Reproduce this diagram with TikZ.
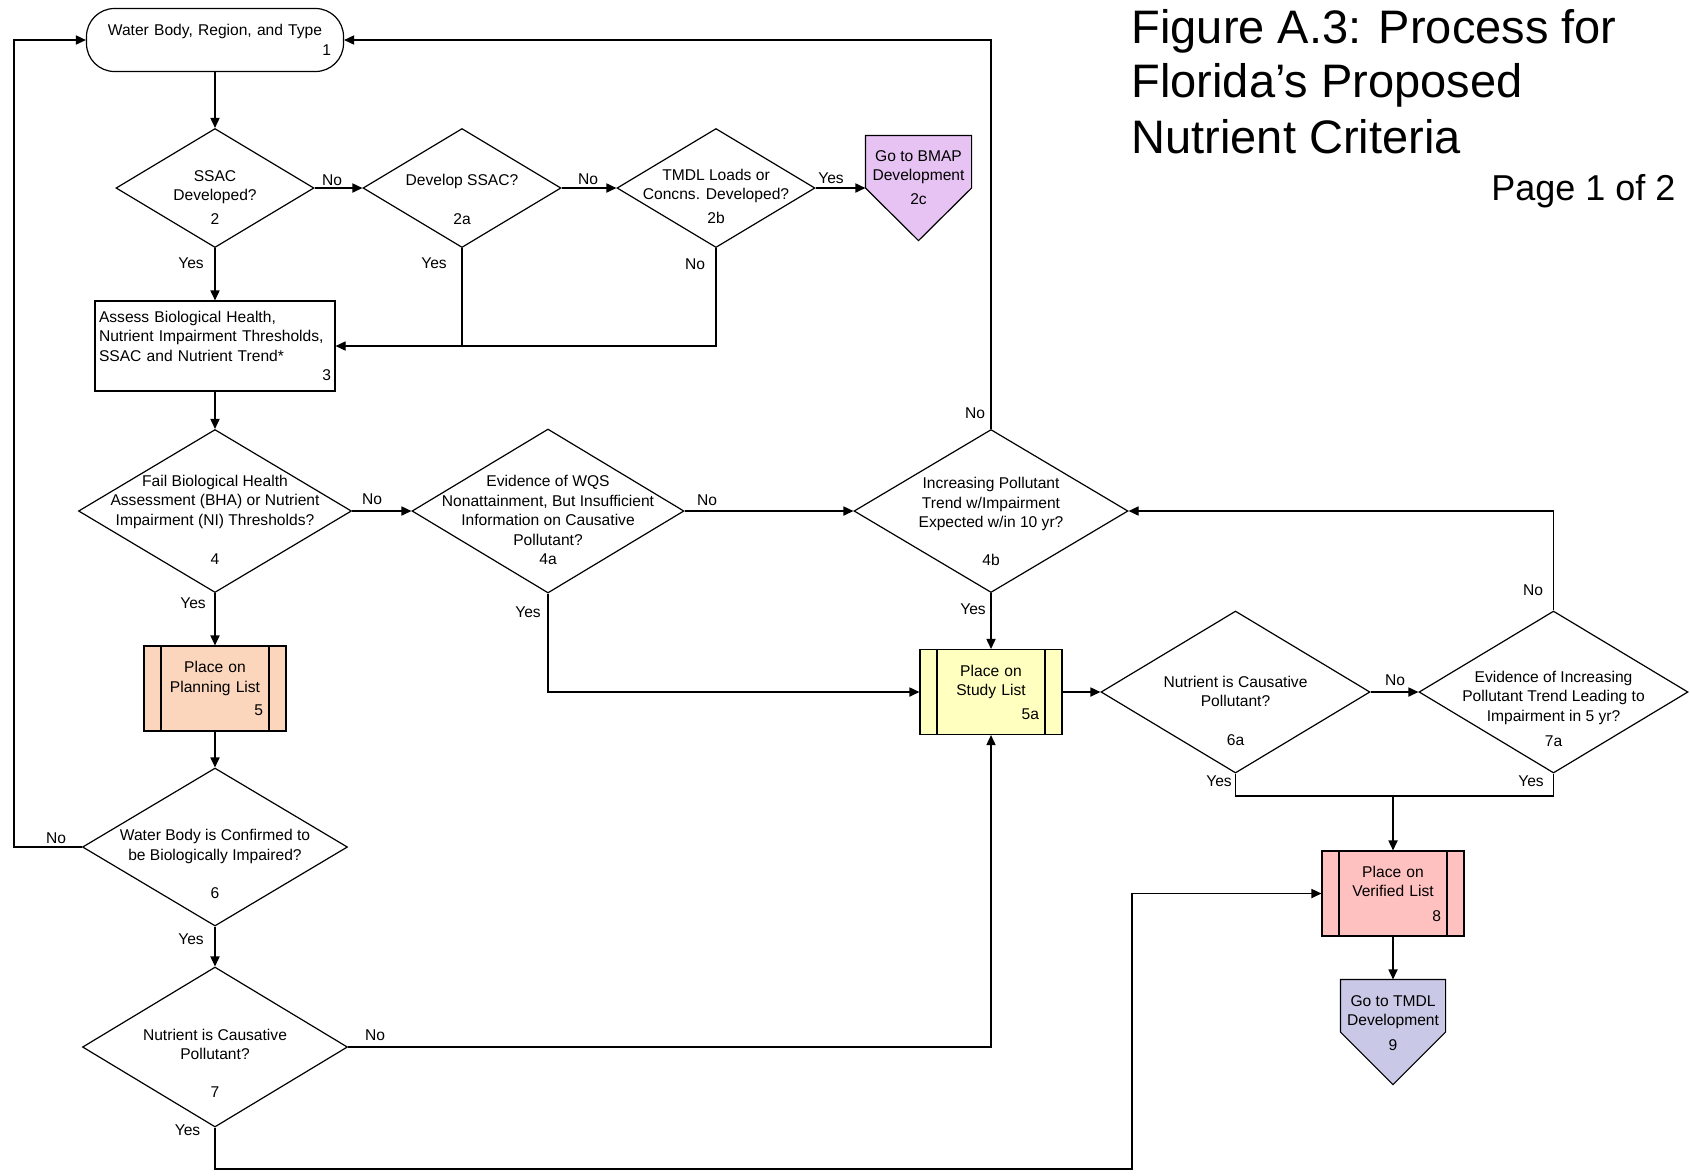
\documentclass[tikz,border=0pt]{standalone}
\usepackage{fontspec}
\setmainfont{Liberation Sans}
\usetikzlibrary{shapes.geometric,arrows.meta}

\definecolor{bmapviolet}{RGB}{230,195,243}
\definecolor{planpeach}{RGB}{252,214,188}
\definecolor{studyyellow}{RGB}{255,255,192}
\definecolor{verpink}{RGB}{255,192,192}
\definecolor{tmdlblue}{RGB}{201,201,231}

\begin{document}
\begin{tikzpicture}[
    x=0.5pt, y=-0.5pt,
    line width=0.6pt,
    every node/.style={font=\fontsize{7.8pt}{9.75pt}\selectfont},
    flow/.style={-{Triangle[length=5pt,width=4.6pt]}},
    term/.style={draw, rounded corners=14pt, minimum width=128.5pt, minimum height=31.5pt, inner sep=0pt, text width=116pt, align=center},
    proc/.style={draw, minimum width=120pt, minimum height=45pt, inner sep=0pt, text width=116pt, align=left},
    dec/.style={draw, diamond, inner sep=0pt},
    qtxt/.style={align=center, inner sep=0pt},
    list/.style={draw, fill=#1, minimum width=71pt, minimum height=42.5pt, inner sep=0pt, text width=48pt, align=center,
        path picture={
            \draw[line width=0.6pt] ([xshift=8.5pt]path picture bounding box.north west) -- ([xshift=8.5pt]path picture bounding box.south west);
            \draw[line width=0.6pt] ([xshift=-8.5pt]path picture bounding box.north east) -- ([xshift=-8.5pt]path picture bounding box.south east);
        }},
    offp/.style={minimum width=52.5pt, minimum height=52pt, inner sep=0pt},
    yn/.style={inner sep=0pt},
    ttl/.style={font=\fontsize{23.5pt}{27.5pt}\selectfont, anchor=base west, inner sep=0pt},
]
\useasboundingbox (0,0) rectangle (1690,1175);

% Title
\node[ttl] (ttl1) at (1131,43) {Figure A.3: Process for};
\node[ttl] (ttl2) at (1131,97) {Florida’s Proposed};
\node[ttl] (ttl3) at (1131,153) {Nutrient Criteria};
\node[font=\fontsize{18pt}{21pt}\selectfont, anchor=base east, inner sep=0pt] (pg) at (1676,200) {Page 1 of 2};

% Start
\node[term] (t1) at (215,40) {Water Body, Region, and Type\\\hfill 1};

% SSAC row
\node[dec, minimum width=99pt, minimum height=59.5pt] (d2) at (215,188) {};
\node[dec, minimum width=99pt, minimum height=59.5pt] (d2a) at (462,188) {};
\node[dec, minimum width=99pt, minimum height=59.5pt] (d2b) at (716,188) {};
\node[qtxt] (d2t) at (215,197.5) {SSAC\\Developed?\\[2.25pt]2};
\node[qtxt] (d2at) at (462,199.5) {Develop SSAC?\\[9.75pt]2a};
\node[qtxt] (d2bt) at (716,196.5) {TMDL Loads or\\Concns. Developed?\\[2.25pt]2b};

\node[offp] (g2c) at (918.5,188) {};
\draw[fill=bmapviolet] (g2c.north west) -- (g2c.north east) -- (g2c.east) -- (g2c.south) -- (g2c.west) -- cycle;
\node[qtxt] (g2ct) at (918.5,177.5) {Go to BMAP\\Development\\[2.25pt]2c};

% Assessment
\node[proc] (b3) at (215,346) {Assess Biological Health,\\Nutrient Impairment Thresholds,\\SSAC and Nutrient Trend*\\\hfill 3\hspace*{4.5pt}};

% Impairment row
\node[dec, minimum width=136.5pt, minimum height=81.5pt] (d4) at (215,511) {};
\node[dec, minimum width=136pt, minimum height=82pt] (d4a) at (548,511) {};
\node[dec, minimum width=137pt, minimum height=81.5pt] (d4b) at (991,511) {};
\node[qtxt] (d4t) at (215,520) {Fail Biological Health\\Assessment (BHA) or Nutrient\\Impairment (NI) Thresholds?\\[10pt]4};
\node[qtxt] (d4at) at (548,520) {Evidence of WQS\\Nonattainment, But Insufficient\\Information on Causative\\Pollutant?\\4a};
\node[qtxt] (d4bt) at (991,521.5) {Increasing Pollutant\\Trend w/Impairment\\Expected w/in 10 yr?\\[9.25pt]4b};

% Lists
\node[list=planpeach] (b5) at (215,688.5) {Place on\\Planning List\\[2pt]\hfill 5\hspace*{2.5pt}};
\node[list=studyyellow] (b5a) at (991,692) {Place on\\Study List\\[2pt]\hfill 5a\hspace*{2.5pt}};

% Confirmation
\node[dec, minimum width=132.5pt, minimum height=79pt] (d6) at (215,847) {};
\node[dec, minimum width=132.5pt, minimum height=80pt] (d7) at (215,1047) {};
\node[qtxt] (d6t) at (215,864) {Water Body is Confirmed to\\be Biologically Impaired?\\[9.25pt]6};
\node[qtxt] (d7t) at (215,1063.5) {Nutrient is Causative\\Pollutant?\\[9.25pt]7};

\node[dec, minimum width=134.5pt, minimum height=81pt] (d6a) at (1235.5,692) {};
\node[dec, minimum width=134.5pt, minimum height=81pt] (d7a) at (1553.5,692) {};
\node[qtxt] (d6at) at (1235.5,711) {Nutrient is Causative\\Pollutant?\\[9.75pt]6a};
\node[qtxt] (d7at) at (1553.5,708.5) {Evidence of Increasing\\Pollutant Trend Leading to\\Impairment in 5 yr?\\[2.75pt]7a};

% Verified list and TMDL
\node[list=verpink] (b8) at (1393,893.5) {Place on\\Verified List\\[2.5pt]\hfill 8\hspace*{2pt}};
\node[offp, minimum width=52pt] (g9) at (1393,1032) {};
\draw[fill=tmdlblue] (g9.north west) -- (g9.north east) -- (g9.east) -- (g9.south) -- (g9.west) -- cycle;
\node[qtxt] (g9t) at (1393,1023) {Go to TMDL\\Development\\[2.75pt]9};

% Bend points
\coordinate (lft) at (14,847);
\coordinate (mrg) at (1393,796);
\coordinate (jog) at (1132,1169);

% Connectors
\draw[flow] (t1.south) -- (d2.north);
\draw[flow] (d2.east) -- (d2a.west);
\draw[flow] (d2a.east) -- (d2b.west);
\draw[flow] (d2b.east) -- (g2c.west);
\draw[flow] (d2.south) -- (b3.north);
\draw[flow] (d2b.south) |- (b3.east);
\draw (d2a.south) -- (d2a.south |- b3.east);
\draw[flow] (b3.south) -- (d4.north);
\draw[flow] (d4.east) -- (d4a.west);
\draw[flow] (d4a.east) -- (d4b.west);
\draw[flow] (d4.south) -- (b5.north);
\draw[flow] (d4a.south) |- (b5a.west);
\draw[flow] (d4b.south) -- (b5a.north);
\draw[flow] (d4b.north) |- (t1.east);
\draw[flow] (b5.south) -- (d6.north);
\draw[flow] (d6.west) -- (lft) |- (t1.west);
\draw[flow] (d6.south) -- (d7.north);
\draw[flow] (d7.east) -| (b5a.south);
\draw[flow] (b5a.east) -- (d6a.west);
\draw[flow] (d6a.east) -- (d7a.west);
\draw[flow] (d7a.north) |- (d4b.east);
\draw (d6a.south) |- (mrg) -| (d7a.south);
\draw[flow] (mrg) -- (b8.north);
\draw[flow] (d7.south) |- (jog) |- (b8.west);
\draw[flow] (b8.south) -- (g9.north);

% Yes / No labels
\node[yn] (n2) at (332,180) {No};
\node[yn] (n2a) at (588,179) {No};
\node[yn] (y2b) at (831,178) {Yes};
\node[yn] (y2) at (191,263) {Yes};
\node[yn] (y2a) at (434,263) {Yes};
\node[yn] (n2b) at (695,264) {No};
\node[yn] (n4b) at (975,413) {No};
\node[yn] (n4) at (372,499) {No};
\node[yn] (n4a) at (707,500) {No};
\node[yn] (y4) at (193,603) {Yes};
\node[yn] (y4a) at (528,612) {Yes};
\node[yn] (y4b) at (973,609) {Yes};
\node[yn] (n6a) at (1395,680) {No};
\node[yn] (n7a) at (1533,590) {No};
\node[yn] (y6a) at (1219,781) {Yes};
\node[yn] (y7a) at (1531,781) {Yes};
\node[yn] (n6) at (56,838) {No};
\node[yn] (y6) at (191,939) {Yes};
\node[yn] (n7) at (375,1035) {No};
\node[yn] (y7) at (187.5,1130) {Yes};

\end{tikzpicture}
\end{document}
